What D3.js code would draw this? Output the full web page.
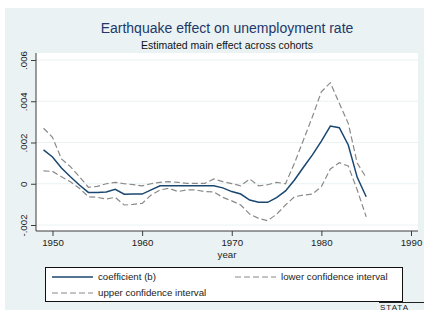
<!DOCTYPE html>
<html>
<head>
	<meta charset="utf-8">
	<title>Earthquake effect</title>
	<script src="https://d3js.org/d3.v7.min.js"></script>
	<style>
		html, body {
			margin: 0;
			background: white;
		}
		text {
			font-family: "Liberation Sans", Arial, sans-serif;
		}
	</style>
</head>
<body>
	<svg id="svg"></svg>
	<script>
		const years = d3.range(1949, 1986);
		const coefficient = [
			.00164, .0013, .00076, .00034, -.00006, -.00042, -.00042, -.0004, -.00027, -.00051,
			-.0005, -.0005, -.0003, -.0001, -.0001, -.0001, -.0001, -.0001, -.0001, -.0001,
			-.0002, -.00038, -.0005, -.00079, -.0009, -.0009, -.00067, -.00035, .00018, .0008,
			.0014, .00207, .0028, .00272, .00188, .00031, -.00063
		];
		const upper = [
			.00269, .00225, .0012, .00083, .00034, -.00017, -.00013, 0, .00007, 0,
			-.00004, -.0001, 0, .00007, .0001, .00007, .00002, .00002, .00002, .00023,
			.0001, .00001, -.0001, .00023, -.0001, -.00005, .00007, 0, .001, .00212,
			.00325, .00446, .0049, .0039, .00293, .001, .0003
		];
		const lower = [
			.00062, .0006, .00034, .0001, -.00022, -.00063, -.00066, -.00074, -.00066, -.00103,
			-.001, -.00095, -.00055, -.0003, -.00022, -.00038, -.0003, -.0003, -.00038, -.0004,
			-.00066, -.00083, -.00103, -.00147, -.00168, -.00179, -.00148, -.00103, -.00063, -.00055,
			-.0005, -.00014, .00072, .00102, .00086, -.0003, -.0016
		];
		const xTicks = [1950, 1960, 1970, 1980, 1990];
		const yTicks = [-.002, 0, .002, .004, .006];
		const yTickLabels = ["-.002", "0", ".002", ".004", ".006"];

		const width = 424, height = 310;
		const plot = { left: 36, right: 418, top: 53, bottom: 231 };

		const svg = d3.select("#svg")
		.attr("width", width)
		.attr("height", height);

		// outer background (graph region)
		svg.append("rect")
		.attr("x", 5).attr("y", 8)
		.attr("width", width - 5).attr("height", height - 8)
		.attr("fill", "#eaf2f3");

		svg.append("rect")
		.attr("x", plot.left).attr("y", plot.top)
		.attr("width", plot.right - plot.left).attr("height", plot.bottom - plot.top)
		.attr("fill", "white");

		const scaleX = d3.scaleLinear()
		.domain([1950, 1990])
		.range([52.5, 411]);

		const scaleY = d3.scaleLinear()
		.domain([-.002, .006])
		.range([225, 60]);

		// grid
		svg.append("g")
		.selectAll("line")
		.data(yTicks)
		.enter()
		.append("line")
		.attr("x1", plot.left).attr("x2", plot.right)
		.attr("y1", d => scaleY(d)).attr("y2", d => scaleY(d))
		.attr("stroke", "#eaf2f3")
		.attr("stroke-width", 1);

		const line = d3.line()
		.x((d, i) => scaleX(years[i]))
		.y(d => scaleY(d));

		const series = [
			{ name: "upper", values: upper, color: "#8a8a8a", width: 1.2, dash: "6,3" },
			{ name: "lower", values: lower, color: "#8a8a8a", width: 1.2, dash: "6,3" },
			{ name: "coef", values: coefficient, color: "#1a476f", width: 1.5, dash: null }
		];

		svg.append("g")
		.selectAll("path")
		.data(series)
		.enter()
		.append("path")
		.attr("fill", "none")
		.attr("stroke", d => d.color)
		.attr("stroke-width", d => d.width)
		.attr("stroke-dasharray", d => d.dash)
		.attr("d", d => line(d.values));

		// axes
		const xAxis = svg.append("g")
		.attr("transform", `translate(0, ${plot.bottom})`)
		.call(d3.axisBottom(scaleX).tickValues(xTicks).tickFormat(d3.format("d")).tickSize(5).tickSizeOuter(0));
		xAxis.select(".domain").attr("d", `M${plot.left},0H${plot.right}`);

		const yAxis = svg.append("g")
		.attr("transform", `translate(${plot.left}, 0)`)
		.call(d3.axisLeft(scaleY).tickValues(yTicks).tickFormat((d, i) => yTickLabels[i]).tickSize(5).tickSizeOuter(0));
		yAxis.select(".domain").attr("d", `M0,${plot.top}V${plot.bottom}`);

		svg.selectAll(".domain, .tick line").attr("stroke", "#3c3c3c");
		xAxis.selectAll("text")
		.attr("font-size", 9.7)
		.attr("fill", "#222")
		.attr("dy", "0.71em")
		.attr("y", 8);
		yAxis.selectAll(".tick text")
		.attr("font-size", 9.7)
		.attr("fill", "#222")
		.attr("x", 0).attr("dy", 0)
		.attr("text-anchor", "middle")
		.attr("transform", "translate(-9, 0) rotate(-90)");

		svg.append("text")
		.attr("x", (plot.left + plot.right) / 2).attr("y", 257.5)
		.attr("text-anchor", "middle")
		.attr("font-size", 9.7)
		.attr("fill", "#222")
		.text("year");

		// titles
		svg.append("text")
		.attr("x", 227).attr("y", 33)
		.attr("text-anchor", "middle")
		.attr("font-size", 14)
		.attr("fill", "#22386a")
		.text("Earthquake effect on unemployment rate");

		svg.append("text")
		.attr("x", 227).attr("y", 49)
		.attr("text-anchor", "middle")
		.attr("font-size", 10.5)
		.attr("fill", "#111")
		.text("Estimated main effect across cohorts");

		// legend
		const legend = svg.append("g");
		legend.append("rect")
		.attr("x", 45.5).attr("y", 267.5)
		.attr("width", 357).attr("height", 34)
		.attr("fill", "white")
		.attr("stroke", "#111")
		.attr("stroke-width", 1);

		const legendItems = [
			{ label: "coefficient (b)", s: series[2], x: 52, y: 277 },
			{ label: "lower confidence interval", s: series[1], x: 235, y: 277 },
			{ label: "upper confidence interval", s: series[0], x: 52, y: 293 }
		];

		const items = legend.selectAll("g.item")
		.data(legendItems)
		.enter()
		.append("g")
		.attr("class", "item")
		.attr("transform", d => `translate(${d.x}, ${d.y})`);

		items.append("line")
		.attr("x1", 0).attr("x2", 41)
		.attr("stroke", d => d.s.color)
		.attr("stroke-width", d => d.s.width)
		.attr("stroke-dasharray", d => d.s.dash);

		items.append("text")
		.attr("x", 46).attr("dy", "0.35em")
		.attr("font-size", 9.7)
		.attr("fill", "#222")
		.text(d => d.label);

		// stata logo
		svg.append("line")
		.attr("x1", 379).attr("x2", 424)
		.attr("y1", 302.5).attr("y2", 302.5)
		.attr("stroke", "#222");
		svg.append("text")
		.attr("x", 380).attr("y", 309.5)
		.attr("font-size", 8)
		.attr("font-family", "DejaVu Sans Mono, monospace")
		.attr("letter-spacing", 1)
		.attr("fill", "#222")
		.text("STATA");
	</script>
</body>
</html>
